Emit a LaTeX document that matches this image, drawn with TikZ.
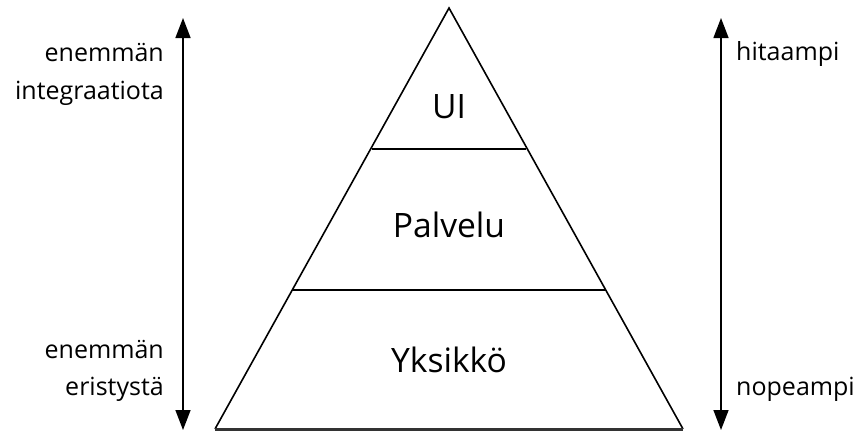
\documentclass[tikz,border=0pt]{standalone}
\usepackage{fontspec}
\setmainfont{Open Sans}
\usetikzlibrary{arrows.meta}
\begin{document}
\begin{tikzpicture}[x=1pt,y=-1pt,
  tri/.style={draw=black,line width=1.6pt,line join=miter},
  base/.style={draw=black!80,line width=3pt},
  sep/.style={draw=black,line width=1.4pt},
  arr/.style={draw=black,line width=1.5pt,-{Triangle[width=15pt,length=20pt]}},
  big/.style={inner sep=0pt,font=\fontsize{33.6}{40}\selectfont},
  lab/.style={inner sep=0pt,font=\fontsize{25}{30}\selectfont}]
\useasboundingbox (0,0) rectangle (856,432);
\coordinate (apex) at (449,8);
\coordinate (bl) at (215,429);
\coordinate (br) at (683,429);
\coordinate (s1l) at (371.6,149);
\coordinate (s1r) at (526.4,149);
\coordinate (s2l) at (292.3,290);
\coordinate (s2r) at (605.7,290);
\draw[tri] (bl) -- (apex) -- (br);
\draw[base] (bl) -- (br);
\draw[sep] (s1l) -- (s1r);
\draw[sep] (s2l) -- (s2r);
% arrows
\coordinate (lmid) at (183,220);
\coordinate (ltop) at (183,18);
\coordinate (lbot) at (183,430);
\coordinate (rmid) at (721,220);
\coordinate (rtop) at (721,18);
\coordinate (rbot) at (721,430);
\draw[arr] (lmid) -- (ltop);
\draw[arr] (lmid) -- (lbot);
\draw[arr] (rmid) -- (rtop);
\draw[arr] (rmid) -- (rbot);
% level labels
\node[big,anchor=base] (ui) at (449,118) {UI};
\node[big,anchor=base] (pal) at (449,237) {Palvelu};
\node[big,anchor=base] (yks) at (449,372) {Yksikkö};
% side labels
\node[lab,anchor=base east] (l1) at (164,61) {enemmän};
\node[lab,anchor=base east] (l2) at (164,99) {integraatiota};
\node[lab,anchor=base east] (l3) at (164,358) {enemmän};
\node[lab,anchor=base east] (l4) at (164,395) {eristystä};
\node[lab,anchor=base west] (r1) at (736,60) {hitaampi};
\node[lab,anchor=base west] (r2) at (736,395) {nopeampi};
\end{tikzpicture}
\end{document}
